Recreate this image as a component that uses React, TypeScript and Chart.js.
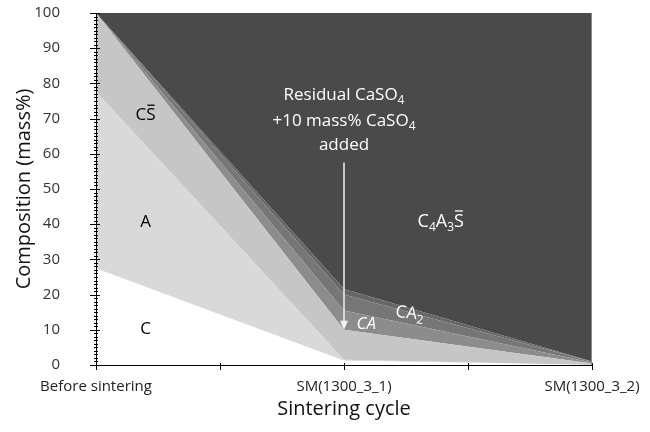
import React, { useEffect, useRef } from 'react';
import { Chart, registerables } from 'chart.js';

Chart.register(...registerables);

// ---- data ----
const categories = ['Before sintering', 'SM(1300_3_1)', 'SM(1300_3_2)'];
const xPositions = [0, 1, 2];
const phaseC = [27.4, 1.2, 0];
const phaseA = [50.2, 0.3, 0];
const phaseCS = [22.4, 8.5, 0.4];
const phaseCA = [0, 5.5, 0.3];
const phaseCA2 = [0, 4.5, 0.2];
const phaseMinor = [0, 1.6, 0.1];
const phaseC4A3S = [0, 78.4, 99.0];
const yTickValues = [0, 10, 20, 30, 40, 50, 60, 70, 80, 90, 100];

const FONT = "'Open Sans', sans-serif";

type Seg = { t: string; sub?: boolean; over?: boolean };

function drawRich(
  ctx: CanvasRenderingContext2D,
  segs: Seg[],
  cx: number,
  cy: number,
  size: number,
  color: string,
  italic = false
) {
  const base = `${italic ? 'italic ' : ''}${size}px ${FONT}`;
  const subF = `${italic ? 'italic ' : ''}${Math.round(size * 0.68)}px ${FONT}`;
  let w = 0;
  segs.forEach((s) => {
    ctx.font = s.sub ? subF : base;
    w += ctx.measureText(s.t).width;
  });
  let x = cx - w / 2;
  ctx.textBaseline = 'middle';
  ctx.textAlign = 'left';
  ctx.fillStyle = color;
  ctx.strokeStyle = color;
  segs.forEach((s) => {
    ctx.font = s.sub ? subF : base;
    const sw = ctx.measureText(s.t).width;
    ctx.fillText(s.t, x, s.sub ? cy + size * 0.32 : cy);
    if (s.over) {
      ctx.lineWidth = 1.3;
      ctx.beginPath();
      ctx.moveTo(x + 1, cy - size * 0.58);
      ctx.lineTo(x + sw - 1, cy - size * 0.58);
      ctx.stroke();
    }
    x += sw;
  });
}

const annotPlugin = {
  id: 'annot',
  afterDatasetsDraw(chart: any) {
    const { ctx, scales, chartArea } = chart;
    const xs = scales.x;
    const ys = scales.y;
    ctx.save();
    // faint right edge of the plot area
    ctx.strokeStyle = '#8a8a8a';
    ctx.lineWidth = 1;
    ctx.beginPath();
    ctx.moveTo(chartArea.right - 0.5, chartArea.top);
    ctx.lineTo(chartArea.right - 0.5, chartArea.bottom);
    ctx.stroke();
    // axes lines
    ctx.strokeStyle = '#000';
    ctx.beginPath();
    ctx.moveTo(chartArea.left + 0.5, chartArea.top);
    ctx.lineTo(chartArea.left + 0.5, chartArea.bottom + 0.5);
    ctx.lineTo(chartArea.right, chartArea.bottom + 0.5);
    ctx.stroke();
    // y ticks: major + minor
    for (let v = 0; v <= 100; v += 1) {
      const py = Math.round(ys.getPixelForValue(v)) + 0.5;
      const major = v % 10 === 0;
      ctx.beginPath();
      ctx.moveTo(chartArea.left - (major ? 6 : 2), py);
      ctx.lineTo(chartArea.left + (major ? 4 : 2), py);
      ctx.stroke();
    }
    // x ticks: major at categories, minor between
    for (let v = 0; v <= 2; v += 0.5) {
      const px = Math.round(xs.getPixelForValue(v)) + 0.5;
      ctx.beginPath();
      ctx.moveTo(px, chartArea.bottom - 2);
      ctx.lineTo(px, chartArea.bottom + 5);
      ctx.stroke();
    }

    // region labels
    const lx = xs.getPixelForValue(0.2);
    drawRich(ctx, [{ t: 'C' }, { t: 'S', over: true }], lx, ys.getPixelForValue(71), 17, '#000');
    drawRich(ctx, [{ t: 'A' }], lx, ys.getPixelForValue(40.5), 17, '#000');
    drawRich(ctx, [{ t: 'C' }], lx, ys.getPixelForValue(10.2), 17, '#000');
    drawRich(
      ctx,
      [{ t: 'C' }, { t: '4', sub: true }, { t: 'A' }, { t: '3', sub: true }, { t: 'S', over: true }],
      xs.getPixelForValue(1.39),
      ys.getPixelForValue(40.8),
      18,
      '#fff'
    );
    drawRich(ctx, [{ t: 'CA' }], xs.getPixelForValue(1.09), ys.getPixelForValue(11.5), 17, '#fff', true);
    ctx.save();
    ctx.translate(xs.getPixelForValue(1.265), ys.getPixelForValue(14.6));
    ctx.rotate(0.12);
    drawRich(ctx, [{ t: 'CA' }, { t: '2', sub: true }], 0, 0, 17, '#fff');
    ctx.restore();

    // annotation text + arrow
    const ax = xs.getPixelForValue(1);
    drawRich(ctx, [{ t: 'Residual CaSO' }, { t: '4', sub: true }], ax, ys.getPixelForValue(76.7), 17, '#fff');
    drawRich(ctx, [{ t: '+10 mass% CaSO' }, { t: '4', sub: true }], ax, ys.getPixelForValue(69.4), 17, '#fff');
    drawRich(ctx, [{ t: 'added' }], ax, ys.getPixelForValue(62.4), 17, '#fff');
    const yTop = ys.getPixelForValue(57.5);
    const yTip = ys.getPixelForValue(10);
    ctx.strokeStyle = '#f2f2f2';
    ctx.fillStyle = '#f2f2f2';
    ctx.lineWidth = 1.5;
    ctx.beginPath();
    ctx.moveTo(ax, yTop);
    ctx.lineTo(ax, yTip - 8);
    ctx.stroke();
    ctx.beginPath();
    ctx.moveTo(ax - 4, yTip - 9);
    ctx.lineTo(ax + 4, yTip - 9);
    ctx.lineTo(ax, yTip);
    ctx.closePath();
    ctx.fill();
    ctx.restore();
  },
};

export default function App() {
  const ref = useRef<HTMLCanvasElement>(null);
  useEffect(() => {
    const canvas = ref.current!;
    const mk = (label: string, data: number[], color: string, fill: any) => ({
      label,
      data: data.map((v, i) => ({ x: xPositions[i], y: v })),
      backgroundColor: color,
      borderColor: color,
      borderWidth: 0,
      pointRadius: 0,
      fill,
      tension: 0,
    });
    const chart = new Chart(canvas, {
      type: 'line',
      data: {
        datasets: [
          mk('C', phaseC, '#ffffff', 'origin'),
          mk('A', phaseA, '#d9d9d9', '-1'),
          mk('CS', phaseCS, '#c6c6c6', '-1'),
          mk('CA', phaseCA, '#8c8c8c', '-1'),
          mk('CA2', phaseCA2, '#767676', '-1'),
          mk('minor', phaseMinor, '#666666', '-1'),
          mk('C4A3S', phaseC4A3S, '#4a4a4a', '-1'),
        ] as any,
      },
      options: {
        animation: false,
        responsive: false,
        maintainAspectRatio: false,
        layout: { padding: { left: 0, right: 58, top: 13, bottom: 0 } },
        plugins: { legend: { display: false }, tooltip: { enabled: false } },
        scales: {
          x: {
            type: 'linear',
            min: 0,
            max: 2,
            afterFit: (s: any) => {
              s.height = 67;
              s.paddingLeft = 0;
              s.paddingRight = 0;
            },
            afterBuildTicks: (s: any) => {
              s.ticks = xPositions.map((v) => ({ value: v }));
            },
            ticks: {
              callback: (v: any) => categories[Math.round(Number(v))],
              autoSkip: false,
              maxRotation: 0,
              padding: 13,
              color: '#222',
              font: { family: FONT, size: 15 },
            },
            grid: { display: false, drawTicks: false },
            border: { display: false },
            title: {
              display: true,
              text: 'Sintering cycle',
              color: '#111',
              font: { family: FONT, size: 20 },
              padding: { top: 0, bottom: 11 },
            },
          },
          y: {
            stacked: true,
            min: 0,
            max: 100,
            afterFit: (s: any) => {
              s.width = 96;
              s.paddingTop = 0;
              s.paddingBottom = 0;
            },
            afterBuildTicks: (s: any) => {
              s.ticks = yTickValues.map((v) => ({ value: v }));
            },
            ticks: {
              padding: 36,
              color: '#333',
              font: { family: FONT, size: 15 },
            },
            grid: { display: false, drawTicks: false },
            border: { display: false },
            title: {
              display: true,
              text: 'Composition (mass%)',
              color: '#111',
              font: { family: FONT, size: 20 },
              padding: { top: 12, bottom: 0 },
            },
          },
        },
      } as any,
      plugins: [annotPlugin],
    });
    return () => chart.destroy();
  }, []);
  return (
    <div style={{ position: 'fixed', left: 0, top: 0, width: 650, height: 432, background: '#fff' }}>
      <canvas ref={ref} width={650} height={432} style={{ width: 650, height: 432, display: 'block' }} />
    </div>
  );
}
